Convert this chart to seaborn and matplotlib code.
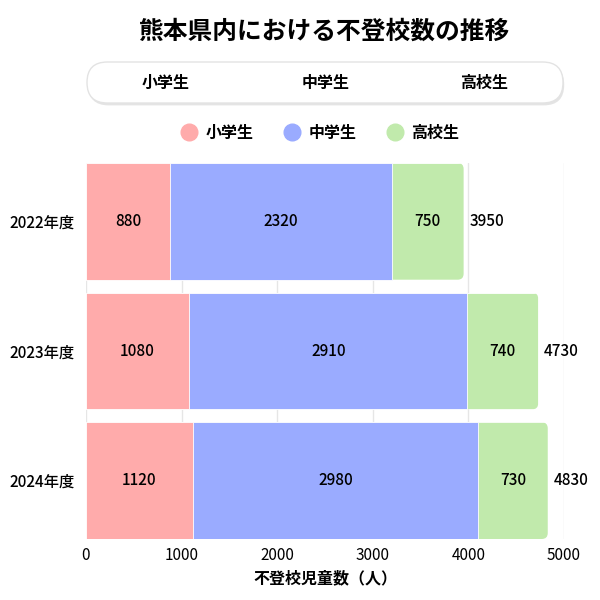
import matplotlib
matplotlib.use("Agg")
import matplotlib.pyplot as plt
from matplotlib.patches import FancyBboxPatch
from matplotlib.lines import Line2D
from matplotlib.transforms import IdentityTransform
import pandas as pd
import seaborn as sns

sns.set_theme(style="whitegrid")
plt.rcParams["font.family"] = ["Noto Sans CJK JP", "DejaVu Sans"]
plt.rcParams.update({"text.color": "black", "axes.labelcolor": "black",
                     "xtick.color": "black", "ytick.color": "black"})

# data
years = ["2022年度", "2023年度", "2024年度"]
elementary = [880, 1080, 1120]
junior = [2320, 2910, 2980]
high = [750, 740, 730]
groups = ["小学生", "中学生", "高校生"]
colors = ["#FFABAB", "#9AABFF", "#C1EAAC"]

df = pd.DataFrame({"year": years, "小学生": elementary, "中学生": junior, "高校生": high})
df["cum1"] = df["小学生"]
df["cum2"] = df["cum1"] + df["中学生"]
df["total"] = df["cum2"] + df["高校生"]

fig = plt.figure(figsize=(6, 6), dpi=100)
ax = fig.add_axes([86 / 600, 61 / 600, 478 / 600, 376 / 600])

# stacked by overlaying cumulative bars, largest first
sns.barplot(data=df, x="total", y="year", color=colors[2], width=0.9,
            edgecolor="white", linewidth=0.6, saturation=1, ax=ax)
n_green = len(ax.patches)
sns.barplot(data=df, x="cum2", y="year", color=colors[1], width=0.9,
            edgecolor="white", linewidth=0.6, saturation=1, ax=ax)
sns.barplot(data=df, x="cum1", y="year", color=colors[0], width=0.9,
            edgecolor="white", linewidth=0.6, saturation=1, ax=ax)

ax.set_xlim(0, 5000)
ax.set_ylim(2.45, -0.45)
ax.set_xticks([0, 1000, 2000, 3000, 4000, 5000])
ax.grid(axis="x", color="#e6e6e6", linewidth=1)
ax.grid(axis="y", visible=False)
ax.set_axisbelow(True)
for s in ax.spines.values():
    s.set_visible(False)
ax.tick_params(axis="x", length=0, labelsize=11, pad=6)
ax.tick_params(axis="y", length=0, labelsize=11, pad=8)
for t in ax.get_yticklabels():
    t.set_fontweight("medium")
ax.set_ylabel("")
ax.set_xlabel("不登校児童数（人）", fontsize=11.5, fontweight="bold", labelpad=4)

# round the right end of the green segments
for p in ax.patches[:n_green]:
    x0, y0 = p.get_x(), p.get_y()
    x1, y1 = x0 + p.get_width(), y0 + p.get_height()
    (dx0, dy0), (dx1, dy1) = ax.transData.transform([(x0, y0), (x1, y1)])
    lo, hi = min(dy0, dy1), max(dy0, dy1)
    clip = FancyBboxPatch((dx0 - 20, lo), (dx1 - dx0) + 20, hi - lo,
                          boxstyle="round,pad=0,rounding_size=6",
                          transform=IdentityTransform())
    p.set_clip_path(clip)

# segment labels
for i in range(len(years)):
    ax.text(elementary[i] / 2, i, str(elementary[i]), ha="center", va="center", fontsize=11,
            fontweight="medium")
    ax.text(df["cum1"][i] + junior[i] / 2, i, str(junior[i]), ha="center", va="center",
            fontsize=11, fontweight="medium")
    ax.text(df["cum2"][i] + high[i] / 2, i, str(high[i]), ha="center", va="center",
            fontsize=11, fontweight="medium")
    ax.annotate(str(df["total"][i]), (df["total"][i], i), xytext=(4, 0),
                textcoords="offset points", ha="left", va="center", fontsize=11,
                fontweight="medium")

# title
fig.text(324 / 600, 1 - 32 / 600, "熊本県内における不登校数の推移", ha="center", va="center",
         fontsize=17.8, fontweight="bold")

# pill-shaped tab bar
shadow = FancyBboxPatch((87 / 600 + 0.002, 1 - 103 / 600 - 0.004), 476 / 600, 41 / 600,
                        boxstyle="round,pad=0,rounding_size=0.034", transform=fig.transFigure,
                        facecolor="#d9d9d9", edgecolor="none", alpha=0.7, zorder=1)
pill = FancyBboxPatch((87 / 600, 1 - 103 / 600), 476 / 600, 41 / 600,
                      boxstyle="round,pad=0,rounding_size=0.034", transform=fig.transFigure,
                      facecolor="white", edgecolor="#e3e3e3", linewidth=1, zorder=2)
fig.patches.extend([shadow, pill])
for g, xp in zip(groups, [166, 326, 484]):
    fig.text(xp / 600, 1 - 83 / 600, g, ha="center", va="center", fontsize=11.5,
             fontweight="bold", zorder=3)

# legend
handles = [Line2D([], [], marker="o", linestyle="none", markersize=12,
                  markerfacecolor=c, markeredgecolor=c) for c in colors]
leg = fig.legend(handles, groups, loc="center", bbox_to_anchor=(320 / 600, 1 - 133 / 600),
                 ncol=3, frameon=False, handlelength=1.0, handletextpad=0.55,
                 columnspacing=1.9, prop={"size": 11.5, "weight": "bold"})

fig.savefig("out.png", dpi=100)
